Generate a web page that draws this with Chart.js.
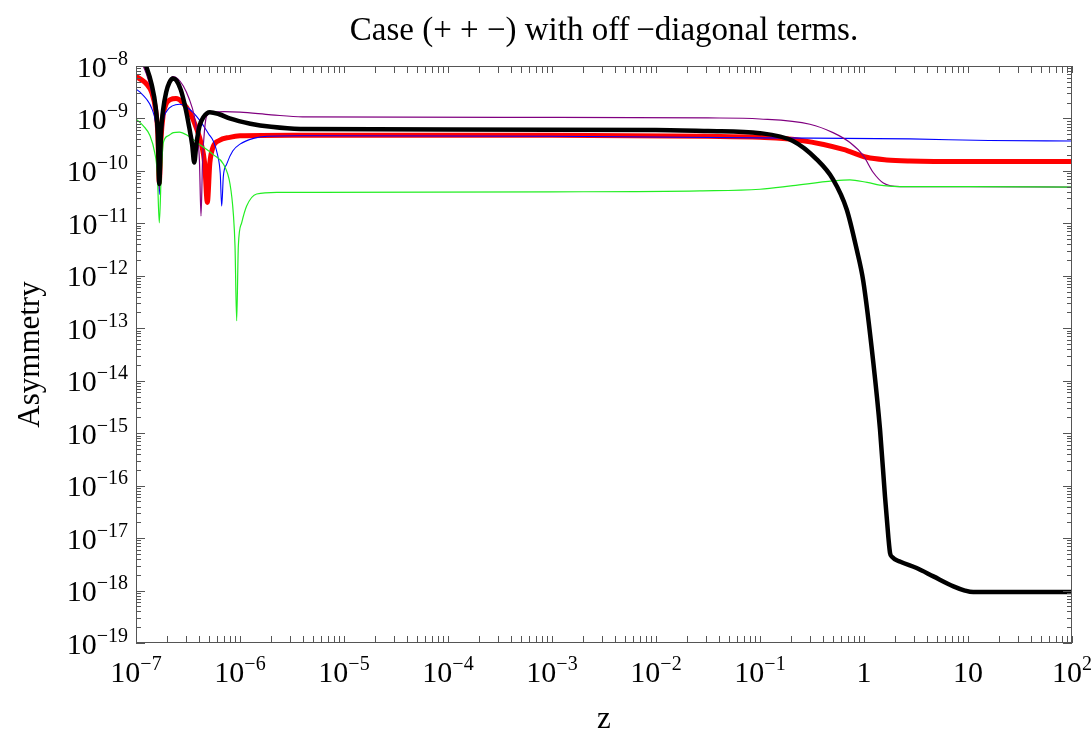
<!DOCTYPE html>
<html>
<head>
<meta charset="utf-8">
<script src="https://cdn.jsdelivr.net/npm/chart.js@4.4.1/dist/chart.umd.min.js"></script>
<style>
  html, body { margin: 0; padding: 0; background: #ffffff; }
  #wrap { width: 1091px; height: 732px; }
</style>
</head>
<body>
<div id="wrap"><canvas id="c" width="1091" height="732"></canvas></div>
<script>
// ---- Data (log10 z, log10 Asymmetry) ----
const blackLogZ = [-7.00,-6.95,-6.90,-6.85,-6.81,-6.79,-6.776,-6.76,-6.74,-6.71,-6.68,-6.645,-6.61,-6.57,-6.53,-6.49,-6.46,-6.44,-6.42,-6.39,-6.35,-6.29,-6.20,-6.10,-5.90,-5.70,-5.42,-4.00,-2.00,-1.50,-1.00,-0.683,-0.455,-0.298,-0.167,-0.07,-0.007,0.09,0.154,0.202,0.235,0.25,0.27,0.35,0.506,0.667,0.86,0.97,1.05,1.30,2.00];
const blackLogA = [-7.60,-7.80,-8.02,-8.35,-8.80,-9.30,-10.25,-9.30,-8.85,-8.50,-8.32,-8.24,-8.28,-8.45,-8.75,-9.15,-9.50,-9.84,-9.50,-9.15,-8.97,-8.88,-8.92,-9.00,-9.10,-9.16,-9.20,-9.21,-9.22,-9.24,-9.28,-9.43,-9.78,-10.16,-10.73,-11.50,-12.10,-13.66,-14.93,-16.21,-17.00,-17.28,-17.36,-17.45,-17.57,-17.73,-17.92,-18.00,-18.03,-18.03,-18.03];

const redLogZ = [-7.00,-6.95,-6.90,-6.85,-6.81,-6.79,-6.776,-6.76,-6.74,-6.71,-6.67,-6.615,-6.55,-6.48,-6.42,-6.37,-6.34,-6.314,-6.29,-6.26,-6.20,-6.10,-6.00,-5.50,-3.00,-1.50,-1.00,-0.60,-0.199,0.025,0.218,0.44,1.00,2.00];
const redLogA = [-8.20,-8.26,-8.34,-8.50,-8.85,-9.30,-10.22,-9.40,-8.95,-8.72,-8.64,-8.62,-8.70,-8.90,-9.18,-9.50,-9.85,-10.60,-9.85,-9.55,-9.42,-9.36,-9.33,-9.32,-9.32,-9.34,-9.36,-9.42,-9.59,-9.74,-9.79,-9.81,-9.82,-9.82];

const blueLogZ = [-7.00,-6.95,-6.90,-6.85,-6.81,-6.79,-6.776,-6.76,-6.737,-6.70,-6.65,-6.58,-6.50,-6.385,-6.30,-6.257,-6.215,-6.19,-6.176,-6.16,-6.128,-6.07,-6.00,-5.87,-5.74,-5.42,-3.00,-1.00,0.44,1.20,2.00];
const blueLogA = [-8.44,-8.52,-8.63,-8.80,-9.10,-9.55,-10.45,-9.60,-9.05,-8.85,-8.76,-8.73,-8.80,-9.04,-9.30,-9.43,-9.70,-10.05,-10.67,-10.10,-9.87,-9.62,-9.49,-9.38,-9.34,-9.33,-9.34,-9.37,-9.39,-9.42,-9.43];

const purpleLogZ = [-7.00,-6.95,-6.90,-6.85,-6.81,-6.79,-6.776,-6.76,-6.74,-6.71,-6.68,-6.645,-6.60,-6.545,-6.49,-6.44,-6.41,-6.39,-6.375,-6.36,-6.34,-6.32,-6.26,-6.15,-6.00,-5.70,-5.40,-3.00,-1.50,-1.00,-0.52,-0.298,-0.135,-0.007,0.089,0.186,0.346,1.00,2.00];
const purpleLogA = [-7.70,-7.92,-8.15,-8.50,-8.95,-9.45,-10.35,-9.40,-8.90,-8.50,-8.30,-8.20,-8.24,-8.38,-8.62,-8.95,-9.35,-9.80,-10.86,-9.80,-9.20,-8.95,-8.88,-8.87,-8.88,-8.93,-8.97,-8.98,-8.99,-9.01,-9.11,-9.27,-9.46,-9.71,-10.03,-10.23,-10.30,-10.30,-10.31];

const greenLogZ = [-7.00,-6.93,-6.865,-6.82,-6.795,-6.776,-6.757,-6.737,-6.69,-6.64,-6.583,-6.50,-6.385,-6.257,-6.16,-6.096,-6.064,-6.048,-6.032,-6.016,-5.984,-5.936,-5.84,-5.647,-5.40,-3.00,-1.577,-1.00,-0.683,-0.298,-0.135,0.03,0.19,0.35,1.00,2.00];
const greenLogA = [-9.01,-9.14,-9.33,-9.65,-10.05,-10.99,-10.05,-9.46,-9.33,-9.27,-9.26,-9.33,-9.50,-9.69,-9.87,-10.25,-10.82,-11.43,-12.86,-11.43,-10.99,-10.67,-10.44,-10.41,-10.41,-10.40,-10.38,-10.35,-10.28,-10.19,-10.17,-10.22,-10.28,-10.30,-10.30,-10.31];

// ---- Axis ticks and text ----
const xTickValues = [1e-7,1e-6,1e-5,1e-4,1e-3,1e-2,1e-1,1,10,100];
const xTickLabels = ['10^\u22127','10^\u22126','10^\u22125','10^\u22124','10^\u22123','10^\u22122','10^\u22121','1','10','10^2'];
const yTickValues = [1e-8,1e-9,1e-10,1e-11,1e-12,1e-13,1e-14,1e-15,1e-16,1e-17,1e-18,1e-19];
const yTickLabels = ['10^\u22128','10^\u22129','10^\u221210','10^\u221211','10^\u221212','10^\u221213','10^\u221214','10^\u221215','10^\u221216','10^\u221217','10^\u221218','10^\u221219'];
const titleText = 'Case (+ + \u2212) with off\u2009\u2212diagonal terms.';
const xTitle = 'z';
const yTitle = 'Asymmetry';

function toPoints(lz, la) { return lz.map((v, i) => ({ x: Math.pow(10, v), y: Math.pow(10, la[i]) })); }

const SERIF = '"Liberation Serif", "DejaVu Serif", serif';
const FRAME = '#555555';

function drawLabel(ctx, label, x, y, align) {
  const parts = label.split('^');
  const baseFont = '30px ' + SERIF;
  const expFont = '20px ' + SERIF;
  ctx.font = baseFont;
  const wb = ctx.measureText(parts[0]).width;
  let we = 0;
  if (parts.length > 1) { ctx.font = expFont; we = ctx.measureText(parts[1]).width; }
  const total = wb + we;
  let x0 = align === 'center' ? x - total / 2 : x - total;
  ctx.textAlign = 'left';
  ctx.textBaseline = 'alphabetic';
  ctx.font = baseFont;
  ctx.fillText(parts[0], x0, y);
  if (parts.length > 1) {
    ctx.font = expFont;
    ctx.fillText(parts[1], x0 + wb, y - 12);
  }
}

const framePlugin = {
  id: 'mmaFrame',
  afterDatasetsDraw(chart) {
    const ctx = chart.ctx;
    const { left, right, top, bottom } = chart.chartArea;
    const xs = chart.scales.x, ys = chart.scales.y;
    ctx.save();
    ctx.strokeStyle = FRAME;
    ctx.lineWidth = 1;
    ctx.beginPath();
    // x ticks (inward, bottom and top)
    for (let e = -7; e <= 2; e++) {
      for (let k = 1; k <= 9; k++) {
        const v = k * Math.pow(10, e);
        if (v < 1e-7 * 0.999 || v > 100 * 1.001) continue;
        const px = Math.round(xs.getPixelForValue(v)) + 0.5;
        const len = 7;
        ctx.moveTo(px, bottom); ctx.lineTo(px, bottom - len);
        ctx.moveTo(px, top); ctx.lineTo(px, top + len);
      }
    }
    // y ticks (inward, left and right)
    for (let e = -19; e <= -8; e++) {
      for (let k = 1; k <= 9; k++) {
        const v = k * Math.pow(10, e);
        if (v < 1e-19 * 0.999 || v > 1e-8 * 1.001) continue;
        const py = Math.round(ys.getPixelForValue(v)) + 0.5;
        const len = k === 1 ? 9 : 5;
        ctx.moveTo(left, py); ctx.lineTo(left + len, py);
        ctx.moveTo(right, py); ctx.lineTo(right - len, py);
      }
    }
    ctx.stroke();
    ctx.strokeRect(left + 0.5, top + 0.5, right - left - 1, bottom - top - 1);
    ctx.restore();
  },
  afterDraw(chart) {
    const ctx = chart.ctx;
    const { left, right, top, bottom } = chart.chartArea;
    const xs = chart.scales.x, ys = chart.scales.y;
    ctx.save();
    ctx.fillStyle = '#000000';
    xTickValues.forEach((v, i) => {
      drawLabel(ctx, xTickLabels[i], xs.getPixelForValue(v), bottom + 39, 'center');
    });
    yTickValues.forEach((v, i) => {
      drawLabel(ctx, yTickLabels[i], left - 8, ys.getPixelForValue(v) + 10.5, 'right');
    });
    // title
    ctx.font = '33px ' + SERIF;
    ctx.textAlign = 'center';
    ctx.textBaseline = 'alphabetic';
    ctx.fillText(titleText, (left + right) / 2, 40);
    // x axis title
    ctx.font = '31px ' + SERIF;
    ctx.fillText(xTitle, (left + right) / 2, 728);
    // y axis title
    ctx.save();
    ctx.translate(39, (top + bottom) / 2);
    ctx.rotate(-Math.PI / 2);
    ctx.textAlign = 'center';
    ctx.fillText(yTitle, 0, 0);
    ctx.restore();
    ctx.restore();
  }
};

const common = { pointRadius: 0, pointHoverRadius: 0, fill: false, cubicInterpolationMode: 'monotone', clip: 0, showLine: true };

new Chart(document.getElementById('c'), {
  type: 'scatter',
  data: {
    datasets: [
      Object.assign({ label: 'black', data: toPoints(blackLogZ, blackLogA), borderColor: '#000000', borderWidth: 4.5, order: 1 }, common),
      Object.assign({ label: 'green', data: toPoints(greenLogZ, greenLogA), borderColor: '#22ee22', borderWidth: 1.2, order: 2 }, common),
      Object.assign({ label: 'purple', data: toPoints(purpleLogZ, purpleLogA), borderColor: '#800080', borderWidth: 1.2, order: 3 }, common),
      Object.assign({ label: 'blue', data: toPoints(blueLogZ, blueLogA), borderColor: '#0000ff', borderWidth: 1.1, order: 4 }, common),
      Object.assign({ label: 'red', data: toPoints(redLogZ, redLogA), borderColor: '#ff0000', borderWidth: 5, order: 5 }, common)
    ]
  },
  options: {
    responsive: false,
    animation: false,
    devicePixelRatio: 1,
    layout: { padding: { left: 136, right: 19, top: 66, bottom: 89 } },
    plugins: { legend: { display: false }, tooltip: { enabled: false }, title: { display: false } },
    scales: {
      x: { type: 'logarithmic', min: 1e-7, max: 100, display: false },
      y: { type: 'logarithmic', min: 1e-19, max: 1e-8, display: false }
    }
  },
  plugins: [framePlugin]
});
</script>
</body>
</html>
